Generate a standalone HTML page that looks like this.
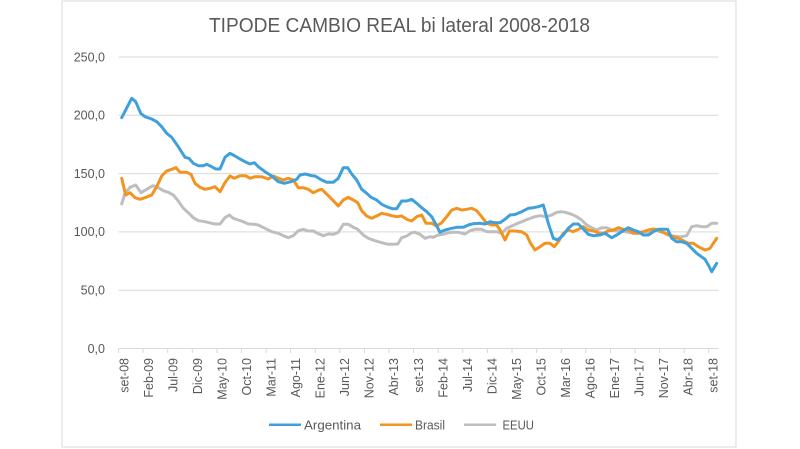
<!DOCTYPE html>
<html>
<head>
<meta charset="utf-8">
<style>
  html, body { margin:0; padding:0; background:#ffffff; }
  svg { display:block; }
  text { font-family: "Liberation Sans", "DejaVu Sans", sans-serif; fill:#595959; }
</style>
</head>
<body>
<svg width="800" height="449" viewBox="0 0 800 449" xmlns="http://www.w3.org/2000/svg">
  <rect x="0" y="0" width="800" height="449" fill="#ffffff"/>
  <!-- chart border -->
  <rect x="62" y="1" width="674" height="446" fill="none" stroke="#d9d9d9" stroke-width="1"/>

  <!-- title -->
  <text x="209" y="32" font-size="20" textLength="381" lengthAdjust="spacingAndGlyphs">TIPODE CAMBIO REAL bi lateral 2008-2018</text>

  <!-- gridlines -->
  <g stroke="#d9d9d9" stroke-width="1">
    <line x1="118.5" y1="57" x2="718.5" y2="57"/>
    <line x1="118.5" y1="115.3" x2="718.5" y2="115.3"/>
    <line x1="118.5" y1="173.6" x2="718.5" y2="173.6"/>
    <line x1="118.5" y1="231.9" x2="718.5" y2="231.9"/>
    <line x1="118.5" y1="290.2" x2="718.5" y2="290.2"/>
    <line x1="118.5" y1="348.5" x2="718.5" y2="348.5"/>
  </g>
  <!-- x ticks -->
  <g stroke="#d9d9d9" stroke-width="1">
    <line x1="118.5" y1="348.5" x2="118.5" y2="353"/>
    <line x1="143.1" y1="348.5" x2="143.1" y2="353"/>
    <line x1="167.7" y1="348.5" x2="167.7" y2="353"/>
    <line x1="192.3" y1="348.5" x2="192.3" y2="353"/>
    <line x1="216.9" y1="348.5" x2="216.9" y2="353"/>
    <line x1="241.5" y1="348.5" x2="241.5" y2="353"/>
    <line x1="266.1" y1="348.5" x2="266.1" y2="353"/>
    <line x1="290.6" y1="348.5" x2="290.6" y2="353"/>
    <line x1="315.2" y1="348.5" x2="315.2" y2="353"/>
    <line x1="339.8" y1="348.5" x2="339.8" y2="353"/>
    <line x1="364.4" y1="348.5" x2="364.4" y2="353"/>
    <line x1="389.0" y1="348.5" x2="389.0" y2="353"/>
    <line x1="413.6" y1="348.5" x2="413.6" y2="353"/>
    <line x1="438.2" y1="348.5" x2="438.2" y2="353"/>
    <line x1="462.8" y1="348.5" x2="462.8" y2="353"/>
    <line x1="487.4" y1="348.5" x2="487.4" y2="353"/>
    <line x1="512.0" y1="348.5" x2="512.0" y2="353"/>
    <line x1="536.6" y1="348.5" x2="536.6" y2="353"/>
    <line x1="561.2" y1="348.5" x2="561.2" y2="353"/>
    <line x1="585.8" y1="348.5" x2="585.8" y2="353"/>
    <line x1="610.4" y1="348.5" x2="610.4" y2="353"/>
    <line x1="635.0" y1="348.5" x2="635.0" y2="353"/>
    <line x1="659.6" y1="348.5" x2="659.6" y2="353"/>
    <line x1="684.2" y1="348.5" x2="684.2" y2="353"/>
    <line x1="708.8" y1="348.5" x2="708.8" y2="353"/>
  </g>

  <!-- y labels -->
  <g font-size="12.5" text-anchor="end">
    <text x="105" y="61.3">250,0</text>
    <text x="105" y="119.6">200,0</text>
    <text x="105" y="177.9">150,0</text>
    <text x="105" y="236.2">100,0</text>
    <text x="105" y="294.5">50,0</text>
    <text x="105" y="352.8">0,0</text>
  </g>

  <!-- x labels -->
  <g font-size="12.5" text-anchor="end">
    <text transform="translate(128.3,358) rotate(-90)">set-08</text>
    <text transform="translate(152.8,358) rotate(-90)">Feb-09</text>
    <text transform="translate(177.4,358) rotate(-90)">Jul-09</text>
    <text transform="translate(201.9,358) rotate(-90)">Dic-09</text>
    <text transform="translate(226.5,358) rotate(-90)">May-10</text>
    <text transform="translate(251.0,358) rotate(-90)">Oct-10</text>
    <text transform="translate(275.5,358) rotate(-90)">Mar-11</text>
    <text transform="translate(300.1,358) rotate(-90)">Ago-11</text>
    <text transform="translate(324.6,358) rotate(-90)">Ene-12</text>
    <text transform="translate(349.2,358) rotate(-90)">Jun-12</text>
    <text transform="translate(373.7,358) rotate(-90)">Nov-12</text>
    <text transform="translate(398.2,358) rotate(-90)">Abr-13</text>
    <text transform="translate(422.8,358) rotate(-90)">set-13</text>
    <text transform="translate(447.3,358) rotate(-90)">Feb-14</text>
    <text transform="translate(471.9,358) rotate(-90)">Jul-14</text>
    <text transform="translate(496.4,358) rotate(-90)">Dic-14</text>
    <text transform="translate(520.9,358) rotate(-90)">May-15</text>
    <text transform="translate(545.5,358) rotate(-90)">Oct-15</text>
    <text transform="translate(570.0,358) rotate(-90)">Mar-16</text>
    <text transform="translate(594.6,358) rotate(-90)">Ago-16</text>
    <text transform="translate(619.1,358) rotate(-90)">Ene-17</text>
    <text transform="translate(643.6,358) rotate(-90)">Jun-17</text>
    <text transform="translate(668.2,358) rotate(-90)">Nov-17</text>
    <text transform="translate(692.7,358) rotate(-90)">Abr-18</text>
    <text transform="translate(717.3,358) rotate(-90)">set-18</text>
  </g>

  <!-- series -->
  <g fill="none" stroke-width="3" stroke-linejoin="round" stroke-linecap="round">
    <polyline stroke="#bebebe" points="121.7,204 125,193.3 130,187.3 135.7,185 141,192.7 146.7,189.3 152.7,185.7 157.7,187.3 163.3,190.7 168.3,192.3 173.3,195 178.3,201 183.3,208.3 188.3,212.7 193.3,217.7 198.3,220.7 205,221.7 211.7,223.3 215,224 220,224 225,217.7 229.3,215 233.3,218.3 238.3,220 243.3,221.7 248.3,224 254.3,224.3 258.3,225 265,228.3 271.7,231.7 278.3,233.3 283.3,235.7 288.3,237.7 293.3,235.7 298.3,230.7 303.3,229.3 308.3,231 313.3,231 319,234 323.3,235.7 328.3,234 333.3,234.3 338.3,232.3 343.3,224.3 348.3,224.3 353.3,227.3 357.7,229.3 363.3,235 368.3,238.3 375,240.7 381.7,242.7 388.3,244.3 393.3,244.3 397.7,244 401.7,237.7 406.7,236 411.7,232.7 415,232.3 420,234.3 425,238.3 430,236.7 433.3,237.3 438.3,235 443.3,234.3 448.3,232.7 453.3,232.3 458.3,232.3 465,234 470,230.7 475,229.3 481.7,229.3 486.7,231.7 491.7,231.7 496.7,231.7 501.7,233.3 506.7,228.3 511.7,226 516.7,223.8 521.7,221.7 528.3,219 535,216.7 540,215.7 546.7,216.7 551.7,215 556.7,212.3 561.7,211.7 566.7,212.7 571.7,214.3 576.7,216.7 581.7,220 586.7,225 591.7,227.7 596.7,230 601.7,227.7 606.7,227.7 611.7,230 616.7,231 621.7,231 628.3,232.3 633.3,233.3 638.3,232.3 643.3,231.7 648.3,231.7 655,230 661.7,232.3 666.7,233.3 671.7,235.7 676.7,236.7 681.7,236.7 686.7,235.7 691.7,226.7 696.7,225.7 701.7,226.7 706.7,226.7 711.7,223.3 716.7,223.3"/>
    <polyline stroke="#f39320" points="121.7,178.3 125.7,195 130,192.7 135,197.7 140,199.3 145,197.7 151.7,195 156.7,186.7 161.7,176 166.7,171 171.7,169.3 176,167.7 180,172.3 186.7,172.3 191,174.3 195,183.3 200,187.3 205,189.3 210,188.3 215,186.7 220,191.7 225,182.7 230,176 234.3,178.3 240,175.7 245.7,175.7 250,178.3 255,176.7 261.7,176.7 268.3,179 273.3,176 278.3,178.3 283.3,180 288.3,178.3 293.3,180 298.3,187.7 303.3,187.7 308.3,189.3 313.3,192.7 319,190 321.7,189.3 326.7,194 333.3,200.7 338.3,206 343.3,200 348.3,197.3 353.3,200 357.7,202.7 361.7,210.7 366.7,216 371.7,218.3 376.7,216 381.7,213.3 386.7,214.3 391.7,215.7 396.7,216.7 401.7,216 406.7,219.3 411.7,221 416.7,216.7 421.7,215 426,223.3 431.7,223.3 436.7,226 441.7,222.7 446.7,216.7 451.7,210 456.7,208.3 461.7,210 466.7,209.3 471.7,208.3 476.7,210.7 481.7,216.7 486.7,223.3 491.7,225 496.7,225 500.7,231 505,240 509.3,231 515,231 521.7,231.7 526.7,235 530,242.3 535,250 540,246.7 545,243.3 550,243.3 554.3,246.7 558.3,241.7 563.3,233.3 568.3,230 573.3,231.7 578.3,229.3 583.3,226.7 588.3,230 593.3,231 598.3,232.7 603.3,233.3 608.3,231 613.3,230 618.3,227.7 623.3,229.3 628.3,230 633.3,233.3 638.3,233.3 643.3,231.7 648.3,230 653.3,229 658.3,230 663.3,232.3 668.3,235 673.3,236.7 678.3,238.3 683.3,240.7 688.3,243.3 693.3,243.3 698.3,246.7 705,250 710,248.3 716.7,238.3"/>
    <polyline stroke="#3fa0dc" points="121.7,117.7 131.7,98.3 135.7,101.7 140.7,113.3 145,116.7 151.7,119 156.7,121.7 161.7,126.7 166.7,133.3 171.7,137.3 178.3,146.7 185,157.3 189,158.3 193.3,163.3 198.3,165.7 203.3,165.7 206.7,164.3 211.7,166.7 215.7,169 220,169 225,157.3 230,153.3 235,156 240,159 245,161.7 250,164 254.3,162.7 258.3,166.7 265,171.7 271.7,176 278.3,181.7 284.3,183.3 291,181.7 296.7,179.3 300,175 305,174 311.7,175.7 315,176 321.7,180 326.7,182.3 333.3,182.3 338.3,178.3 343.3,167.7 347.7,167.7 351.7,174 356.7,180 361.7,189.3 366.7,193.3 371,197.3 376.7,200 381.7,204.3 386.7,206.7 392.3,208.7 396.7,208.7 401.7,201 406.7,201 411.7,199.3 416.7,203.3 421.7,207.7 426.7,211.7 431.7,216.7 435.7,224 440,232.3 445,230 451.7,228.3 456.7,227.3 463.3,227.3 468.3,225 473.3,223.7 480,223.3 485,224 490,221.7 495,222.7 500,222.7 505,219.3 510,215 515,214.5 521.7,211.7 528.3,208.3 533.3,207.7 538.3,206.7 543.3,205 548.3,223.3 553.3,238.3 557.7,240 563.3,235 568.3,228.3 573.3,224 578.3,224 583.3,229 588.3,234.3 593.3,235.7 600,235 605,233.3 611.7,237.7 616.7,235 621.7,231.7 628.3,227.7 633.3,230 638.3,231.7 643.3,235 648.3,235 653.3,231.7 658.3,229.3 663.3,229.3 667.7,229.3 671.7,238.3 676.7,241.7 681.7,241.7 686.7,243.3 691.7,248.3 696.7,253.3 705,259.3 708.3,265 711.7,271.7 716.7,263.3"/>
  </g>

  <!-- legend -->
  <g stroke-width="2.5">
    <line x1="269" y1="424.7" x2="301" y2="424.7" stroke="#3fa0dc"/>
    <line x1="380" y1="424.7" x2="412" y2="424.7" stroke="#f39320"/>
    <line x1="464" y1="424.7" x2="496" y2="424.7" stroke="#bebebe"/>
  </g>
  <g font-size="12.5">
    <text x="304" y="429.3" textLength="57" lengthAdjust="spacingAndGlyphs">Argentina</text>
    <text x="415" y="429.3" textLength="30" lengthAdjust="spacingAndGlyphs">Brasil</text>
    <text x="502.5" y="429.3" textLength="31.5" lengthAdjust="spacingAndGlyphs">EEUU</text>
  </g>
</svg>
</body>
</html>
